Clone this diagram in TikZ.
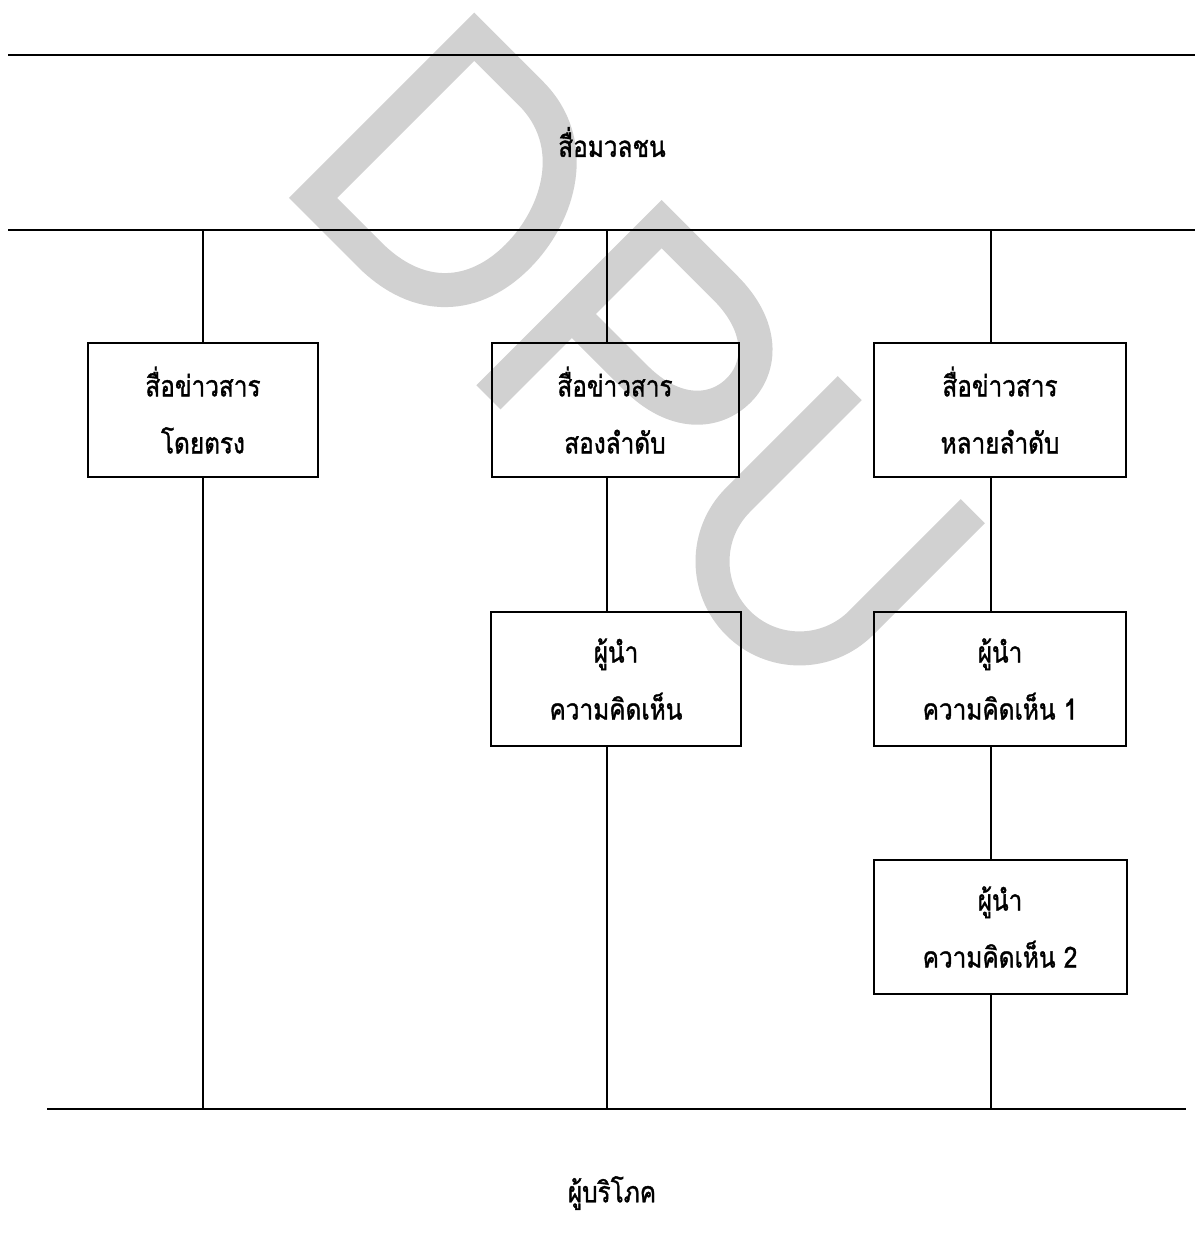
\documentclass[tikz,border=0pt]{standalone}
\usepackage{fontspec}
\newfontfamily\thaifont[Script=Thai, FakeBold=1.2, FakeStretch=0.84]{Loma}
\begin{document}
\begin{tikzpicture}[x=1pt,y=-1pt,
  hline/.style={line width=2.2pt},
  vline/.style={line width=1.5pt},
  boxnode/.style={draw, line width=2pt, minimum width=#1, minimum height=134pt,
    inner sep=0pt, align=center, font=\thaifont\fontsize{29}{57}\selectfont},
  lbl/.style={font=\thaifont\fontsize{29}{34}\selectfont, inner sep=0pt},
  wm/.style={line width=34pt, draw=black!18, line join=miter, line cap=butt}
]
\useasboundingbox[fill=white] (0,0) rectangle (1195,1260);

% watermark
\begin{scope}[shift={(301,210)}, rotate=-45, x=1pt, y=1pt]
  \draw[wm] (0,17) -- (0,245) -- (80,245) .. controls (150,245) and (186,180) .. (186,120)
     .. controls (186,60) and (150,17) .. (80,17) -- cycle;
  \draw[wm] (265,0) -- (265,245) -- (355,245) .. controls (410,245) and (437,215) .. (437,182)
     .. controls (437,148) and (410,118) .. (355,118) -- (265,118);
  \draw[wm] (514,262) -- (514,104) arc[start angle=180, end angle=360, radius=87] -- (688,262);
\end{scope}

% horizontal bands
\coordinate (tl) at (8,55);   \coordinate (tr) at (1195,55);
\coordinate (ml) at (8,230);  \coordinate (mr) at (1195,230);
\coordinate (bl) at (47,1109); \coordinate (br) at (1186,1109);
\draw[hline] (tl) -- (tr);
\draw[hline] (ml) -- (mr);
\draw[hline] (bl) -- (br);

\node[lbl] (mass) at (612,142) {สื่อมวลชน};
\node[lbl] (cons) at (612,1193) {ผู้บริโภค};

% boxes
\node[boxnode=230pt] (b1) at (203,410) {สื่อข่าวสาร\\โดยตรง};
\node[boxnode=247pt] (b2) at (615,410) {สื่อข่าวสาร\\สองลำดับ};
\node[boxnode=252pt] (b3) at (1000,410) {สื่อข่าวสาร\\หลายลำดับ};
\node[boxnode=250pt] (b4) at (616,679) {ผู้นำ\\ความคิดเห็น};
\node[boxnode=252pt] (b5) at (1000,679) {ผู้นำ\\ความคิดเห็น 1};
\node[boxnode=253pt] (b6) at (1000,927) {ผู้นำ\\ความคิดเห็น 2};

% connectors
\coordinate (c1t) at (203,230); \coordinate (c1b) at (203,1109);
\coordinate (c2t) at (607,230); \coordinate (c2b) at (607,1109);
\coordinate (c3t) at (991,230); \coordinate (c3b) at (991,1109);
\draw[vline] (c1t) -- (c1t |- b1.north);
\draw[vline] (c1t |- b1.south) -- (c1b);
\draw[vline] (c2t) -- (c2t |- b2.north);
\draw[vline] (c2t |- b2.south) -- (c2t |- b4.north);
\draw[vline] (c2t |- b4.south) -- (c2b);
\draw[vline] (c3t) -- (c3t |- b3.north);
\draw[vline] (c3t |- b3.south) -- (c3t |- b5.north);
\draw[vline] (c3t |- b5.south) -- (c3t |- b6.north);
\draw[vline] (c3t |- b6.south) -- (c3b);
\end{tikzpicture}
\end{document}
